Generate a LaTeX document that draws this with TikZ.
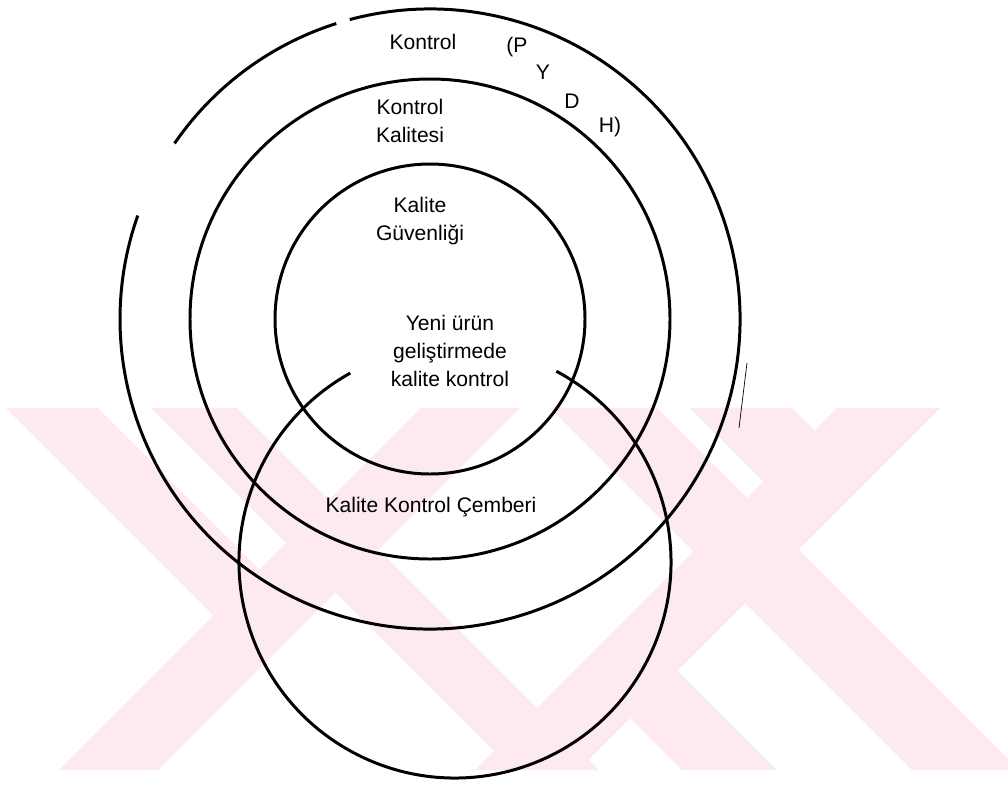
\documentclass[tikz,border=0pt]{standalone}
\usepackage{fontspec}
\setmainfont{Liberation Sans}
\usetikzlibrary{positioning}
\definecolor{wmpink}{RGB}{252,234,238}

\begin{document}
\begin{tikzpicture}[x=0.02cm, y=-0.02cm,
  ring/.style  = {line width=1.7pt, color=black},
  lbl/.style   = {font=\fontsize{12}{15.9}\selectfont, align=center, inner sep=0pt},
  wmark/.style = {fill=wmpink, draw=none}
]
\useasboundingbox (0,0) rectangle (1008,785);

% watermark, left X
\fill[wmark] (6,408) -- (98,408) -- (259.5,569.5) -- (213.5,615.5) -- cycle;
\fill[wmark] (151,408) -- (237,408) -- (599,770) -- (513,770) -- cycle;
\fill[wmark] (421,408) -- (520,408) -- (158,770) -- (59,770) -- cycle;
% watermark, right X
\fill[wmark] (550,408) -- (657,408) -- (1019,770) -- (912,770) -- cycle;
\fill[wmark] (837,408) -- (940,408) -- (578,770) -- (475,770) -- cycle;
\fill[wmark] (690,408) -- (792,408) -- (814.5,430.5) -- (764,482) -- cycle;
\fill[wmark] (682,770) -- (777,770) -- (677.5,670.5) -- (630,718) -- cycle;

\coordinate (ctr) at (430,319);
\coordinate (qcc) at (455,562);

% rings
\draw[ring] (ctr) ++(214.5:310) arc[start angle=214.5, end angle=252.4, radius=310];
\draw[ring] (ctr) ++(255:310) arc[start angle=255, end angle=559.5, radius=310];
\draw[ring] (ctr) circle[radius=240];
\draw[ring] (ctr) circle[radius=155];
\draw[ring] (qcc) ++(-62:216) arc[start angle=-62, end angle=241, radius=216];
\draw[line width=0.4pt] (747,363) -- (739,428);

% labels
\node[lbl] (kon)  at (423,42)  {Kontrol};
\node[lbl] (p)    at (517,47)  {(P};
\node[lbl] (y)    at (543,72)  {Y};
\node[lbl] (d)    at (572,101) {D};
\node[lbl] (h)    at (610,127) {H)};
\node[lbl] (kk)   at (410,121) {Kontrol\\Kalitesi};
\node[lbl] (kg)   at (420,221) {Kalite\\Güvenliği};
\node[lbl] (yeni) at (450,351) {Yeni ürün\\geliştirmede\\kalite kontrol};
\node[lbl] (kkc)  at (431,507) {Kalite Kontrol Çemberi};
\end{tikzpicture}
\end{document}
